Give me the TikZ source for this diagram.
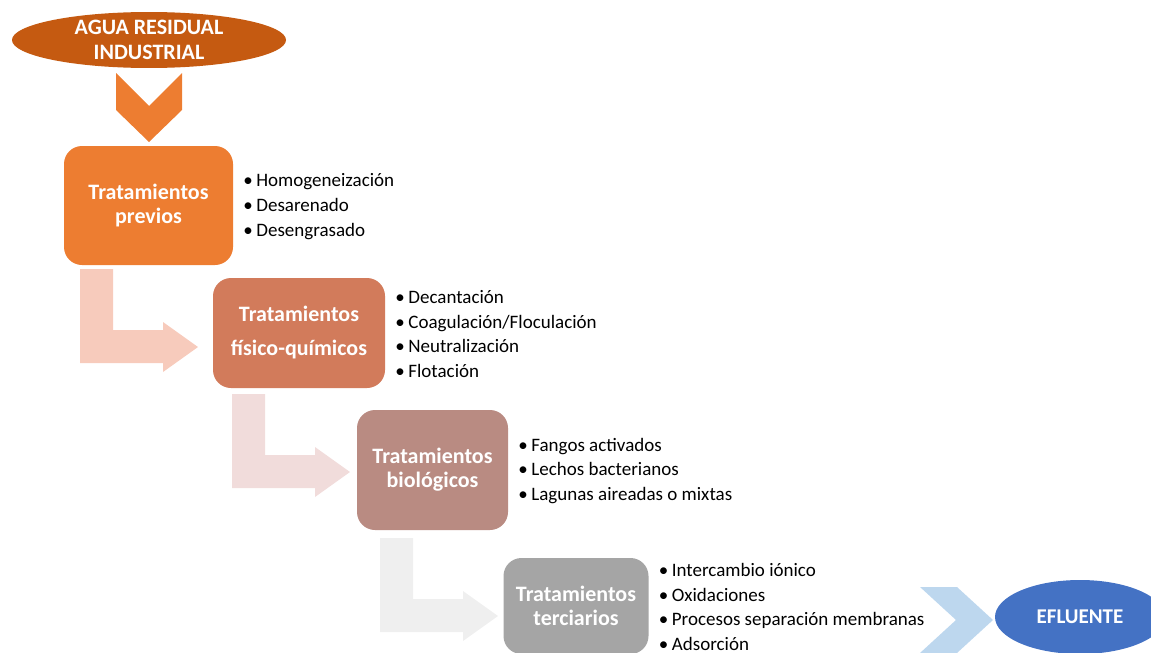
\documentclass[tikz,border=0pt]{standalone}
\usepackage{fontspec}
\setmainfont{Carlito}
\usetikzlibrary{shapes.geometric}

\definecolor{rustorange}{HTML}{C55A11}
\definecolor{mainorange}{HTML}{ED7D31}
\definecolor{salmon}{HTML}{D27B5B}
\definecolor{rosybrown}{HTML}{B98B82}
\definecolor{midgray}{HTML}{A5A5A5}
\definecolor{peach}{HTML}{F7CBBC}
\definecolor{blush}{HTML}{F1DCDB}
\definecolor{fog}{HTML}{EFEFEF}
\definecolor{skyblue}{HTML}{BDD7EE}
\definecolor{effblue}{HTML}{4472C4}

\tikzset{
  stage/.style={rounded corners=18pt, inner sep=0pt, align=center, text=white,
    font=\bfseries\fontsize{22}{24}\selectfont},
  tag/.style={ellipse, inner sep=0pt, align=center, text=white,
    font=\bfseries\fontsize{22}{25}\selectfont},
  items/.style={anchor=west, inner sep=0pt, align=left,
    font=\fontsize{19}{24.7}\selectfont},
}
\newcommand{\itm}{\makebox[13pt][l]{\textbullet}}
% bent arrow: stem left x, stem top y, colour
\newcommand{\bentarrow}[3]{%
  \fill[#3] (#1,#2) -- ++(33,0) -- ++(0,61) -- ++(50,0) -- ++(0,-8)
    -- ++(35,25) -- ++(-35,25) -- ++(0,-9) -- ++(-83,0) -- cycle;}

\begin{document}
\begin{tikzpicture}[x=1pt,y=-1pt]
    \useasboundingbox (0,0) rectangle (1151,653);

    % Input
    \node[tag, fill=rustorange, minimum width=274pt, minimum height=52pt] (agua) at (149,40) {AGUA RESIDUAL\\INDUSTRIAL};
    \fill[mainorange] (116,73) -- (149,106) -- (182,73) -- (182,110) -- (149,142) -- (116,110) -- cycle;

    % Treatment stages
    \node[stage, fill=mainorange, minimum width=169pt, minimum height=119pt] (previos) at (148.5,205.5) {Tratamientos\\previos};
    \node[stage, fill=salmon, minimum width=172pt, minimum height=110pt] (fisqui) at (299,333) {Tratamientos\\[10pt]físico-químicos};
    \node[stage, fill=rosybrown, minimum width=151pt, minimum height=120pt] (biolog) at (432.5,470) {Tratamientos\\biológicos};
    \node[stage, fill=midgray, minimum width=145pt, minimum height=96pt] (terciar) at (576,606) {Tratamientos\\terciarios};

    % Bullet lists
    \node[items] (listprevios) at ([xshift=10pt,yshift=-1pt]previos.east) {\itm Homogeneización\\\itm Desarenado\\\itm Desengrasado};
    \node[items] (listfisqui) at ([xshift=10pt,yshift=-1pt]fisqui.east) {\itm Decantación\\\itm Coagulación/Floculación\\\itm Neutralización\\\itm Flotación};
    \node[items] (listbiolog) at ([xshift=10pt,yshift=-1pt]biolog.east) {\itm Fangos activados\\\itm Lechos bacterianos\\\itm Lagunas aireadas o mixtas};
    \node[items] (listterciar) at ([xshift=10pt,yshift=-1pt]terciar.east) {\itm Intercambio iónico\\\itm Oxidaciones\\\itm Procesos separación membranas\\\itm Adsorción};

    % Arrows between stages
    \bentarrow{80}{269}{peach}
    \bentarrow{232}{394}{blush}
    \bentarrow{380}{538}{fog}

    % Output
    \fill[skyblue] (920,587) -- (957,587) -- (993,620) -- (957,653) -- (920,653) -- (956,620) -- cycle;
    \node[tag, fill=effblue, minimum width=170pt, minimum height=74pt, font=\bfseries\fontsize{21}{25}\selectfont] (efluente) at (1080,617) {EFLUENTE};

\end{tikzpicture}
\end{document}
